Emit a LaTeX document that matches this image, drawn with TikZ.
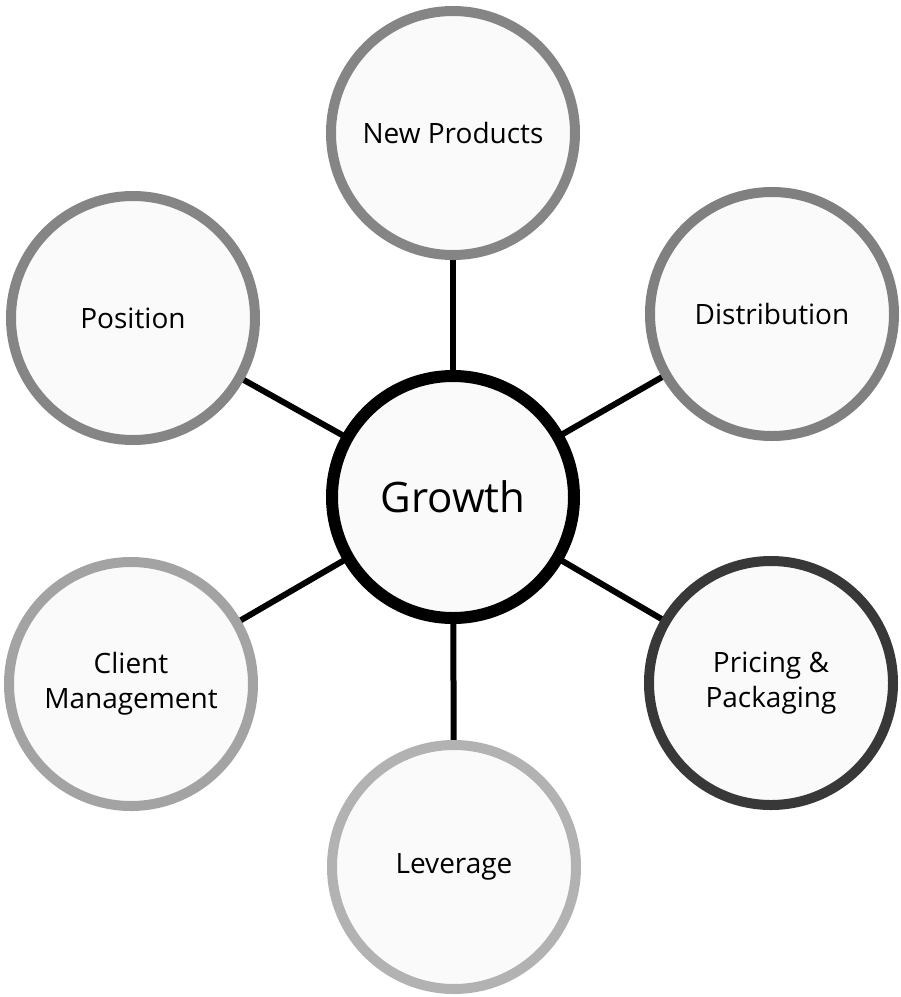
\documentclass[tikz,border=0pt]{standalone}
\usepackage{fontspec}
\setmainfont{Open Sans}
\usetikzlibrary{backgrounds}
\begin{document}
\begin{tikzpicture}[x=1pt,y=-1pt,
  spoke/.style={circle,minimum size=244pt,inner sep=0pt,line width=10pt,
    fill=black!2,align=center,font=\fontsize{28}{35}\selectfont},
  hub/.style={circle,minimum size=242pt,inner sep=0pt,line width=12pt,draw=black,
    fill=black!2,font=\fontsize{42}{50}\selectfont},
  link/.style={line width=6pt,black}]
\useasboundingbox (0,0) rectangle (901,997);
\node[hub] (g) at (453,497) {Growth};
\node[spoke,draw=black!48] (np) at (453,133) {New Products};
\node[spoke,draw=black!48] (pos) at (133,318) {Position};
\node[spoke,draw=black!50] (dist) at (772,314) {Distribution};
\node[spoke,draw=black!36] (cm) at (131,684) {Client\\Management};
\node[spoke,draw=black!78] (pp) at (771,683) {Pricing \&\\Packaging};
\node[spoke,draw=black!30] (lev) at (454,867) {Leverage};
\begin{scope}[on background layer]
  \foreach \n in {np,pos,dist,cm,pp,lev} \draw[link] (g.center) -- (\n.center);
\end{scope}
\end{tikzpicture}
\end{document}
